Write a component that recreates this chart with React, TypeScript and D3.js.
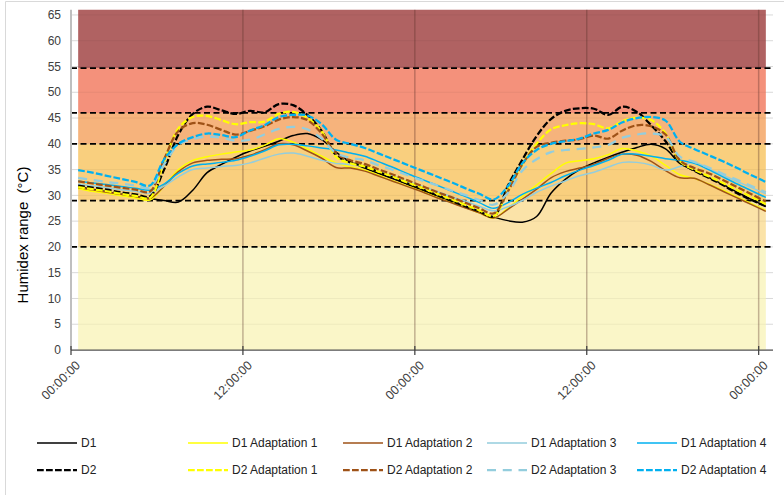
import React from "react";
import * as d3 from "d3";

// ---------- data ----------
const categories: string[] = d3.range(49).map((h) => `h${h}`);
const tickIndex = [0, 12, 24, 36, 48];
const tickLabels = ["00:00:00", "12:00:00", "00:00:00", "12:00:00", "00:00:00"];
const yTicks = [0, 5, 10, 15, 20, 25, 30, 35, 40, 45, 50, 55, 60, 65];
const thresholds = [20, 29, 40, 46, 54.7];
const bandEdges = [0, 20, 29, 40, 46, 54.7, 66];
const bandColors = ["#FAF6C8", "#FBE3A8", "#F9CF7E", "#F6B37C", "#F4917B", "#B06262"];

const seriesNames = [
  "D1", "D1 Adaptation 1", "D1 Adaptation 2", "D1 Adaptation 3", "D1 Adaptation 4",
  "D2", "D2 Adaptation 1", "D2 Adaptation 2", "D2 Adaptation 3", "D2 Adaptation 4",
];

const d1 = [
  31.6, 31.2, 30.7, 30.2, 29.8, 29.4, 29.0, 28.7, 31.0, 34.4, 36.0, 37.4, 38.6,
  39.5, 40.5, 41.6, 42.0, 40.8, 38.4, 36.5, 35.3, 34.2, 33.2, 32.1, 31.0,
  29.9, 28.8, 27.8, 26.7, 25.8, 25.1, 24.8, 25.9, 30.4, 33.1, 35.0, 36.3,
  37.4, 38.4, 39.3, 39.9, 39.0, 36.2, 34.8, 33.5, 32.1, 30.6, 29.2, 27.8,
];
const d1a1 = [
  31.3, 30.8, 30.4, 29.9, 29.5, 29.1, 31.8, 35.0, 36.8, 37.5, 38.0, 38.4, 38.8,
  39.7, 41.0, 40.3, 39.0, 37.6, 36.3, 35.5, 34.9, 33.9, 32.8, 31.8, 30.8,
  29.7, 28.7, 27.7, 26.6, 25.6, 27.5, 29.8, 32.0, 34.2, 36.2, 36.7, 37.1,
  37.9, 39.1, 38.6, 37.6, 35.8, 34.0, 33.3, 32.2, 31.0, 29.7, 28.4, 27.1,
];
const d1a2 = [
  31.5, 31.1, 30.6, 30.2, 29.8, 29.4, 31.8, 34.6, 36.3, 36.8, 37.0, 37.1, 37.8,
  38.8, 40.0, 39.8, 38.6, 37.2, 35.4, 35.3, 34.7, 33.7, 32.7, 31.7, 30.7,
  29.6, 28.6, 27.6, 26.6, 25.6, 27.3, 29.2, 31.2, 33.4, 34.6, 35.3, 36.0,
  37.2, 38.0, 37.8, 36.6, 34.8, 33.4, 33.3, 32.1, 30.8, 29.5, 28.2, 26.9,
];
const d1a3 = [
  32.2, 31.8, 31.5, 31.1, 30.8, 30.4, 31.8, 33.6, 35.0, 35.3, 35.6, 35.8, 36.3,
  37.2, 38.0, 38.2, 37.6, 36.8, 36.2, 36.0, 35.6, 34.6, 33.7, 32.7, 31.8,
  30.8, 29.8, 28.9, 27.9, 27.0, 27.8, 29.0, 30.6, 31.8, 32.8, 33.8, 34.5,
  35.5, 36.4, 36.4, 35.9, 34.9, 35.6, 36.4, 35.2, 33.9, 32.7, 31.5, 30.3,
];
const d1a4 = [
  32.8, 32.4, 32.1, 31.7, 31.4, 31.0, 32.2, 34.3, 35.7, 36.1, 36.4, 36.8, 37.6,
  38.6, 39.8, 39.9, 39.6, 39.2, 38.8, 38.2, 37.6, 36.5, 35.4, 34.2, 33.1,
  32.0, 30.9, 29.8, 28.6, 27.5, 28.6, 30.2, 31.4, 32.5, 33.8, 34.9, 35.8,
  36.8, 38.0, 38.0, 37.6, 37.1, 36.8, 36.2, 35.0, 33.6, 32.2, 30.9, 29.6,
];
const d2 = [
  31.9, 31.5, 31.1, 30.6, 30.2, 29.8, 35.0, 41.8, 45.8, 47.2, 46.5, 45.8, 46.4,
  46.1, 47.7, 47.5, 45.6, 42.5, 37.8, 36.4, 35.6, 34.5, 33.4, 32.3, 31.2,
  30.1, 29.0, 27.9, 26.9, 25.9, 31.9, 36.9, 41.5, 44.8, 46.4, 46.9, 46.8,
  45.6, 47.2, 46.2, 43.6, 40.5, 36.5, 34.8, 33.4, 32.0, 30.4, 29.1, 27.9,
];
const d2a1 = [
  31.6, 31.2, 30.8, 30.3, 29.9, 29.5, 36.5, 43.0, 45.2, 45.4, 44.6, 43.8, 44.2,
  44.3, 45.8, 46.2, 45.0, 42.4, 37.5, 36.2, 35.6, 34.6, 33.6, 32.5, 31.5,
  30.4, 29.3, 28.2, 27.1, 26.0, 31.0, 36.0, 40.0, 42.8, 43.6, 44.0, 43.8,
  43.0, 44.4, 45.1, 44.6, 42.0, 36.6, 35.0, 33.7, 32.4, 31.0, 29.7, 28.3,
];
const d2a2 = [
  32.7, 32.3, 31.9, 31.5, 31.1, 30.7, 37.0, 42.5, 44.0, 43.7, 42.7, 41.8, 42.5,
  43.4, 44.7, 45.2, 44.6, 42.0, 38.2, 36.8, 36.1, 35.0, 34.0, 32.9, 31.8,
  30.7, 29.7, 28.6, 27.5, 26.5, 30.8, 36.0, 39.4, 40.2, 40.6, 40.9, 41.6,
  41.0, 42.6, 43.6, 43.4, 41.8, 36.8, 35.3, 34.3, 33.0, 31.6, 30.2, 28.8,
];
const d2a3 = [
  33.4, 33.0, 32.6, 32.3, 31.9, 31.5, 36.0, 39.8, 40.9, 41.4, 41.2, 40.6, 40.8,
  41.8, 42.9, 43.3, 42.8, 41.0, 38.2, 37.3, 36.8, 35.8, 34.9, 33.9, 32.9,
  32.0, 31.0, 30.1, 29.1, 28.2, 30.5, 34.8, 37.0, 38.4, 38.8, 39.0, 39.3,
  39.8, 41.2, 41.8, 42.0, 41.4, 37.5, 36.5, 35.4, 34.2, 33.0, 31.8, 30.6,
];
const d2a4 = [
  34.9, 34.4, 33.8, 33.2, 32.6, 31.9, 37.0, 40.0, 41.3, 42.0, 41.7, 41.3, 42.6,
  43.6, 45.2, 45.6, 45.5, 43.8, 40.8, 40.0, 39.2, 38.1, 37.0, 35.9, 34.8,
  33.7, 32.6, 31.4, 30.3, 29.2, 31.8, 36.2, 38.8, 40.0, 40.5, 41.0, 42.0,
  42.7, 44.2, 45.0, 45.2, 44.5, 40.4, 39.0, 37.8, 36.6, 35.3, 33.9, 32.6,
];

const seriesValues = [d1, d1a1, d1a2, d1a3, d1a4, d2, d2a1, d2a2, d2a3, d2a4];
const seriesColors = [
  "#000000", "#FFFF00", "#9E5217", "#93CDDD", "#00B0F0",
  "#000000", "#FFFF00", "#9E5217", "#93CDDD", "#00B0F0",
];
const seriesDash = [
  null, null, null, null, null,
  "6.75 2.25", "6.75 2.25", "6.75 2.25", "9 6.75", "6.75 2.25",
];
const seriesWidth = [1.5, 1.5, 1.5, 1.5, 1.5, 2.25, 2.25, 2.25, 2.25, 2.25];

// legend layout (per column)
const legendLineStart = [37, 188, 343, 487, 637];
const legendRows = [443, 470];

const FONT = "'Liberation Sans', Arial, Helvetica, sans-serif";

export default function App() {
  const W = 784;
  const H = 495;
  const left = 71;
  const right = 773;
  const top = 9.8;
  const bottom = 350;

  const x = d3.scaleBand<string>().domain(categories).range([left, right]).padding(0);
  const bw = x.bandwidth();
  const cx = (i: number) => (x(categories[i]) as number) + bw / 2;
  const y = d3.scaleLinear().domain([0, 66]).range([bottom, top]);

  const line = d3
    .line<number>()
    .x((_, i) => cx(i))
    .y((v) => y(v))
    .curve(d3.curveCatmullRom.alpha(0.5));

  const bandArea = (lo: number, hi: number) =>
    d3
      .area<string>()
      .x((_, i) => cx(i))
      .y0(y(lo))
      .y1(y(hi))(categories) as string;

  const xFirst = cx(0);
  const xLast = cx(categories.length - 1);

  return (
    <svg
      width={W}
      height={H}
      viewBox={`0 0 ${W} ${H}`}
      style={{ position: "absolute", left: 0, top: 0, background: "#ffffff" }}
      fontFamily={FONT}
    >
      <rect x={0} y={0} width={W} height={H} fill="#ffffff" />
      <line x1={5.5} x2={5.5} y1={1.5} y2={H} stroke="#d9d9d9" strokeWidth={1} />
      <line x1={5.5} x2={W} y1={1.5} y2={1.5} stroke="#d9d9d9" strokeWidth={1} />

      {/* horizontal gridlines (behind) */}
      {yTicks.map((t) => (
        <line key={`g${t}`} x1={left} x2={right} y1={y(t)} y2={y(t)} stroke="#d9d9d9" strokeWidth={1} />
      ))}

      {/* comfort bands */}
      {bandColors.map((c, i) => (
        <path key={`b${i}`} d={bandArea(bandEdges[i], bandEdges[i + 1])} fill={c} />
      ))}

      {/* faint gridlines over bands */}
      {yTicks.map((t) => (
        <line
          key={`go${t}`}
          x1={xFirst}
          x2={xLast}
          y1={y(t)}
          y2={y(t)}
          stroke="rgba(0,0,0,0.05)"
          strokeWidth={1}
        />
      ))}

      {/* vertical gridlines */}
      {tickIndex.slice(1).map((ti) => {
        const xx = x(categories[ti]) as number;
        return (
          <line
            key={`v${ti}`}
            x1={xx}
            x2={xx}
            y1={top}
            y2={bottom}
            stroke="rgba(90,50,40,0.35)"
            strokeWidth={1.5}
          />
        );
      })}

      {/* threshold dashed lines */}
      {thresholds.map((t) => (
        <line
          key={`t${t}`}
          x1={left}
          x2={right}
          y1={y(t)}
          y2={y(t)}
          stroke="#000000"
          strokeWidth={1.75}
          strokeDasharray="6 3.5"
        />
      ))}

      {/* series */}
      {seriesValues.map((vals, i) => (
        <path
          key={`s${i}`}
          d={line(vals) as string}
          fill="none"
          stroke={seriesColors[i]}
          strokeWidth={seriesWidth[i]}
          strokeDasharray={seriesDash[i] ?? undefined}
          strokeLinejoin="round"
        />
      ))}

      {/* y axis */}
      <line x1={left} x2={left} y1={top} y2={bottom} stroke="#bfbfbf" strokeWidth={2} />
      {yTicks.map((t) => (
        <text key={`yl${t}`} x={61} y={y(t)} dy="0.35em" textAnchor="end" fontSize={12} fill="#404040">
          {t}
        </text>
      ))}
      <text
        transform={`translate(28,235) rotate(-90)`}
        textAnchor="middle"
        fontSize={15}
        fill="#000000"
        style={{ whiteSpace: "pre" }}
      >
        {"Humidex range  (°C)"}
      </text>

      {/* x axis */}
      <line x1={left} x2={right} y1={bottom} y2={bottom} stroke="#595959" strokeWidth={1.25} />
      {tickIndex.map((ti, k) => {
        const xx = x(categories[ti]) as number;
        return (
          <g key={`xt${ti}`}>
            <line x1={xx} x2={xx} y1={bottom - 4} y2={bottom + 5} stroke="#404040" strokeWidth={1.25} />
            <text
              transform={`translate(${xx + 10},${bottom + 16}) rotate(-45)`}
              textAnchor="end"
              fontSize={12.5}
              fill="#404040"
            >
              {tickLabels[k]}
            </text>
          </g>
        );
      })}

      {/* legend */}
      {seriesNames.map((name, i) => {
        const row = i < 5 ? 0 : 1;
        const col = i % 5;
        const x0 = legendLineStart[col];
        const yy = legendRows[row];
        return (
          <g key={`l${i}`}>
            <line
              x1={x0}
              x2={x0 + 40}
              y1={yy}
              y2={yy}
              stroke={seriesColors[i]}
              strokeWidth={seriesWidth[i]}
              strokeDasharray={seriesDash[i] ?? undefined}
            />
            <text x={x0 + 44} y={yy} dy="0.35em" fontSize={12} fill="#222222">
              {name}
            </text>
          </g>
        );
      })}
    </svg>
  );
}
